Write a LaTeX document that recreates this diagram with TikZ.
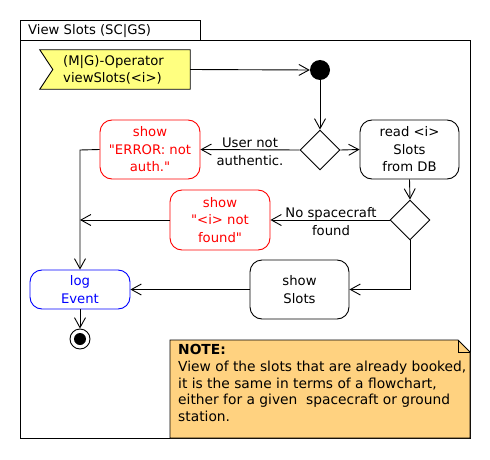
\documentclass[tikz,border=0pt]{standalone}
\usepackage{fontspec}
\setmainfont{DejaVu Sans}[Ligatures=TeXOff]
\usetikzlibrary{arrows.meta,shapes.geometric,calc}
\definecolor{sigyellow}{RGB}{255,255,128}
\definecolor{noteorange}{RGB}{255,210,128}
\tikzset{
  txt/.style={font=\fontsize{13.2}{17.5}\selectfont, align=center, inner sep=0pt},
  act/.style={txt, draw, rounded corners=12pt, line width=0.9pt, fill=white},
  dec/.style={diamond, draw, line width=0.9pt, inner sep=0pt, minimum width=40pt, minimum height=40pt, aspect=1, fill=white},
  flow/.style={line width=0.9pt, -{Straight Barb[length=10pt,width=11pt,line width=0.9pt]}},
  plain/.style={line width=0.9pt},
  lbl/.style={txt, fill=none},
}
\begin{document}
\begin{tikzpicture}[x=1pt,y=-1pt]
\useasboundingbox (0,0) rectangle (490,460);
% frame
\draw[plain] (20,40) rectangle (470,438);
\draw[plain] (20,40) -- (20,20) -- (200,20) -- (200,40);
\node[txt, anchor=west] (title) at (28,31) {View Slots (SC|GS)};
% signal
\node[txt, minimum width=150pt, minimum height=39pt] (sig) at (115,69.5) {};
\draw[plain, fill=sigyellow] (sig.north west) -- (sig.north east) -- (sig.south east) -- (sig.south west) -- ($(sig.west)+(13,0)$) -- cycle;
\node[txt, align=left, anchor=west] (sigtext) at (63,70) {(M|G)-Operator\\viewSlots(<i>)};
% start
\node[circle, fill=black, minimum size=20pt, inner sep=0pt] (start) at (320,70) {};
% decisions
\node[dec] (d1) at (320,150) {};
\node[dec] (d2) at (410,220) {};
% activities
\node[act, minimum width=99pt, minimum height=59pt] (read) at (409.5,149.5) {read <i>\\Slots\\from DB};
\node[act, draw=red, text=red, minimum width=100pt, minimum height=59pt] (err) at (150,149.5) {show\\"ERROR: not\\auth."};
\node[act, draw=red, text=red, minimum width=100pt, minimum height=60pt] (nf) at (220,220) {show\\"<i> not\\found"};
\node[act, draw=blue, text=blue, minimum width=100pt, minimum height=39pt] (log) at (80,289.5) {log\\Event};
\node[act, minimum width=99pt, minimum height=59pt] (slots) at (299.5,289.5) {show\\Slots};
% end
\node[circle, draw, line width=0.9pt, fill=white, minimum size=20pt, inner sep=0pt] (end) at (80,339) {};
\fill (end.center) circle (6pt);
% junctions
\coordinate (j1) at (80,150);
\coordinate (j2) at (80,220);
% connectors
\draw[flow] (sig.east) -- (start.west);
\draw[flow] (start.south) -- (d1.north);
\draw[flow] (d1.east) -- (read.west);
\draw[flow] (d1.west) -- (err.east);
\node[lbl] (l1) at (250,152) {User not\\authentic.};
\draw[flow] (read.south) -- (d2.north);
\draw[flow] (d2.west) -- (nf.east);
\node[lbl] (l2) at (331,221.5) {No spacecraft\\found};
\draw[flow] (err.west) -- (j1) -- (log.north);
\draw[flow] (nf.west) -- (j2);
\draw[flow] (d2.south) |- (slots.east);
\draw[flow] (slots.west) -- (log.east);
\draw[flow] (log.south) -- (end.north);
% note
\draw[plain, fill=noteorange] (170,340) -- (458,340) -- (470,352) -- (470,438) -- (170,438) -- cycle;
\draw[plain] (458,340) -- (458,352) -- (470,352);
\node[anchor=north west, align=left, inner sep=0pt, font=\fontsize{13.8}{16.8}\selectfont] (note) at (178,344)
  {\textbf{NOTE:}\\View of the slots that are already booked,\\it is the same in terms of a flowchart,\\either for a given\ \ spacecraft or ground\\station.};
\end{tikzpicture}
\end{document}
